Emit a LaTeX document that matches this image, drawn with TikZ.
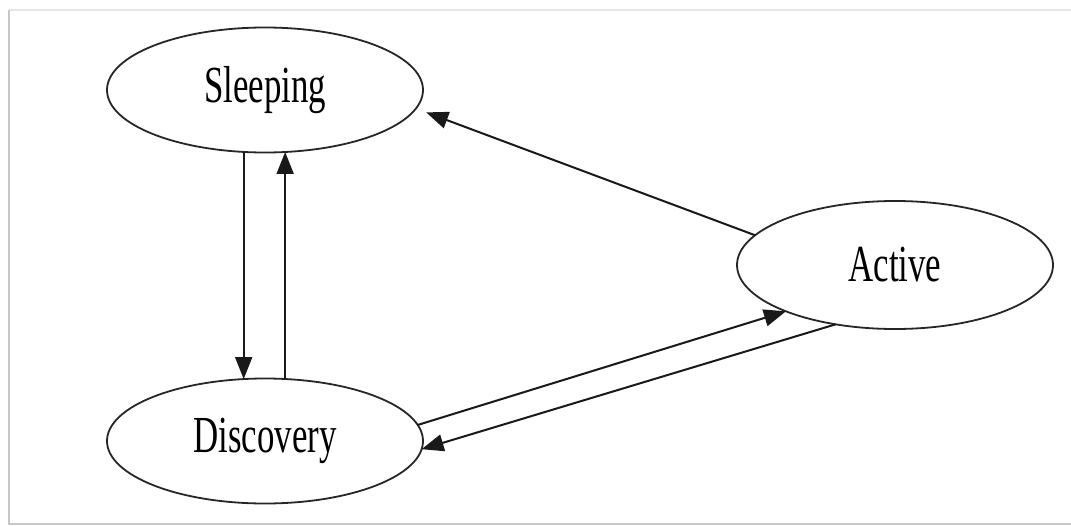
\documentclass[tikz,border=0pt]{standalone}
\usepackage{fontspec}
\usepackage{graphicx}
\setmainfont{Liberation Serif}
\usetikzlibrary{shapes.geometric,arrows.meta}
\begin{document}
\begin{tikzpicture}[x=1pt,y=-1pt,
  state/.style={ellipse,draw=black!85,line width=1.8pt,inner sep=0pt,outer sep=0pt,
    minimum width=316pt,minimum height=125pt,fill=white,
    font=\fontsize{52}{60}\selectfont},
  arr/.style={line width=2pt,draw=black!90,
    -{Triangle[length=22pt,width=17pt]}},
  frameline/.style={line width=2pt,draw=black!22}]
\useasboundingbox (0,0) rectangle (1071,525);
% page frame
\draw[frameline,draw=black!10] (9,10) -- (1071,10);
\draw[frameline] (9,10) -- (9,524) -- (1071,524);
% states
\node[state] (sl) at (265,90) {\scalebox{0.67}[1]{Sleeping}};
\node[state] (dc) at (265,441) {\scalebox{0.67}[1]{Discovery}};
\node[state,minimum width=316pt,minimum height=128pt] (ac) at (895,265) {\scalebox{0.67}[1]{Active}};
% transitions
\draw[arr] (sl.-109.2) -- (dc.109.2);
\draw[arr] (dc.72.6) -- (sl.-72.6);
\draw[arr,shorten >=11pt] (ac.168.9) -- (sl.-7.2);
\draw[arr] (dc.6.5) -- (ac.-157.7);
\draw[arr] (ac.-135) -- (dc.-3);
\end{tikzpicture}
\end{document}
